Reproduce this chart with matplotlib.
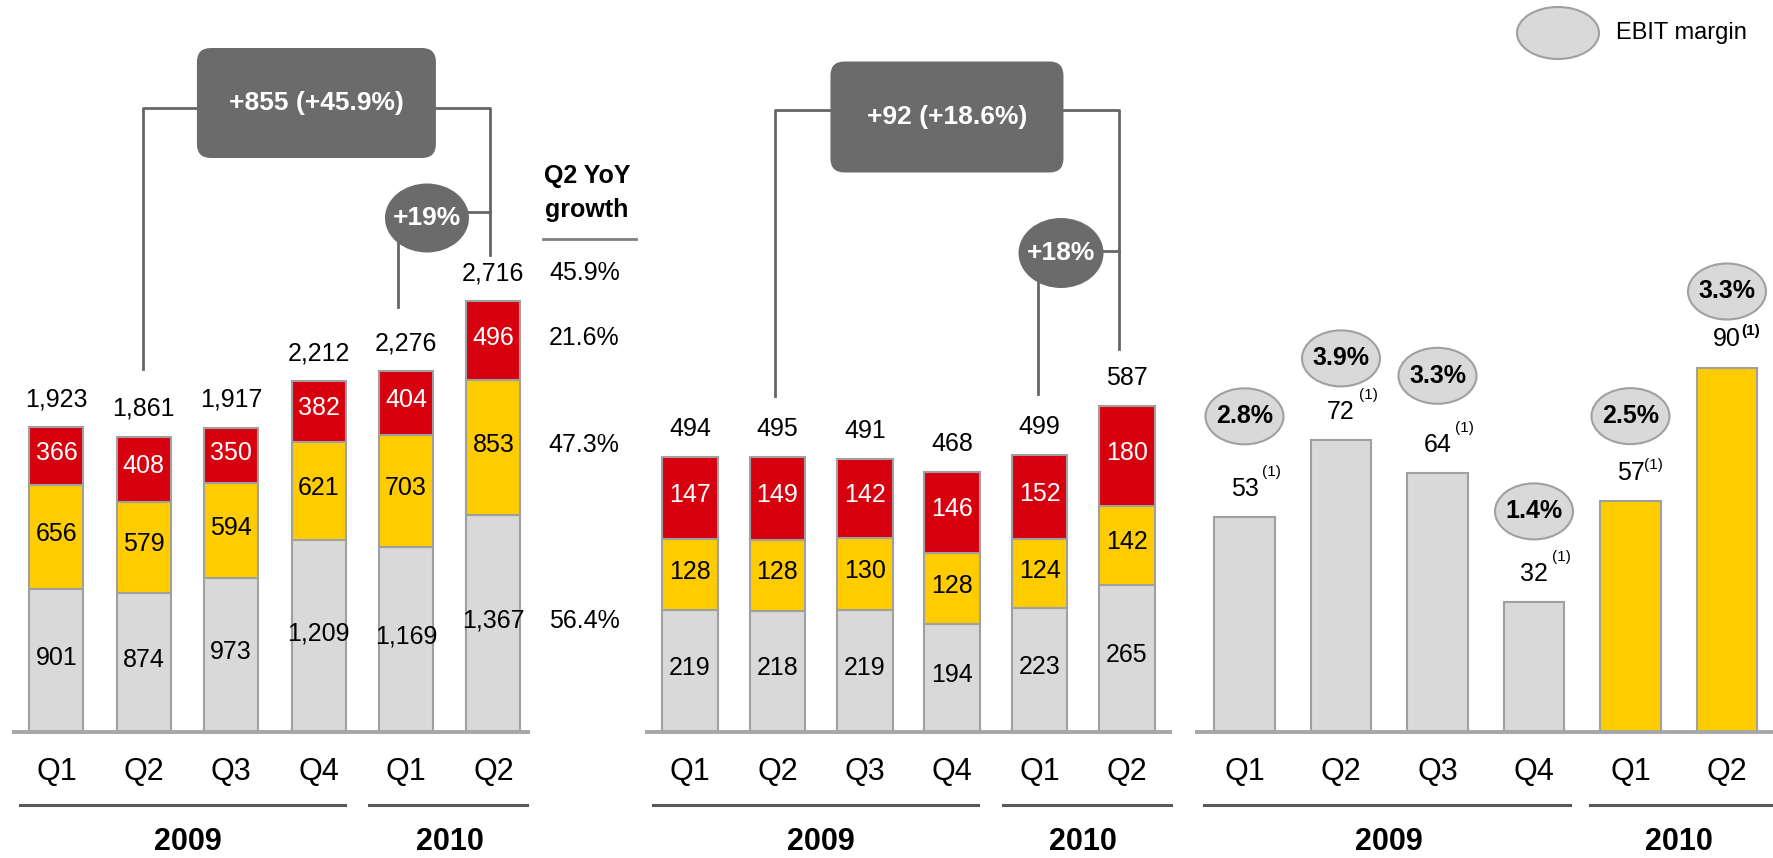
import numpy as np
import matplotlib.pyplot as plt
from matplotlib.patches import Ellipse, FancyBboxPatch

plt.rcParams['font.family'] = ['Liberation Sans', 'DejaVu Sans']

# quarters shown on every panel
quarters = ['Q1', 'Q2', 'Q3', 'Q4', 'Q1', 'Q2']
years = ['2009', '2010']
year_idx = [(0, 3), (4, 5)]

# left panel: three segments per quarter
rev_grey = [901, 874, 973, 1209, 1169, 1367]
rev_yellow = [656, 579, 594, 621, 703, 853]
rev_red = [366, 408, 350, 382, 404, 496]
rev_yoy = ['45.9%', '21.6%', '47.3%', '56.4%']  # total, red, yellow, grey
rev_change = '+855 (+45.9%)'
rev_q_change = '+19%'

# middle panel
mid_grey = [219, 218, 219, 194, 223, 265]
mid_yellow = [128, 128, 130, 128, 124, 142]
mid_red = [147, 149, 142, 146, 152, 180]
mid_change = '+92 (+18.6%)'
mid_q_change = '+18%'

# right panel: EBIT and margin
ebit = [53, 72, 64, 32, 57, 90]
ebit_margin = ['2.8%', '3.9%', '3.3%', '1.4%', '2.5%', '3.3%']

RED = '#D7000F'
YELLOW = '#FFCC00'
GREY = '#D9D9D9'
EDGE = '#A0A0A0'
DARK = '#6B6B6B'
LINE = '#666666'

W, H, BASE = 1774, 858, 732

fig = plt.figure(figsize=(W / 100, H / 100), dpi=100)


def make_panel(left, right, first, step, ppu):
    ax = fig.add_axes([left / W, (H - BASE) / H, (right - left) / W, BASE / H])
    ax.set_xlim((left - first) / step, (right - first) / step)
    ax.set_ylim(0, BASE / ppu)
    ax.axis('off')
    return ax


def ux(ax):
    x0, x1 = ax.get_xlim()
    return (x1 - x0) / ax.bbox.width


def uy(ax):
    y0, y1 = ax.get_ylim()
    return (y1 - y0) / ax.bbox.height


def row(ax, py):
    return (BASE - py) * uy(ax)


def label(ax, text, xy, dy=0, **kw):
    kw.setdefault('fontsize', 18)
    return ax.annotate(text, xy, xytext=(0, dy), textcoords='offset pixels',
                       ha='center', va='center', annotation_clip=False, **kw)


def axis_labels(ax, right_end, tail):
    ax.plot([-0.51, right_end], [0, 0], color='#A6A6A6', lw=2.8,
            solid_capstyle='butt', clip_on=False, zorder=4)
    for i, q in enumerate(quarters):
        label(ax, q, (i, 0), -40, fontsize=22)
    yl = row(ax, BASE + 73)
    for (a, b), yr, t in zip(year_idx, years, tail):
        ax.plot([a - 0.42, b + t], [yl, yl], color='#595959', lw=2.2,
                clip_on=False)
        label(ax, yr, ((a + b) / 2, 0), -110, fontsize=22, fontweight='bold')


def stacked(ax, grey, yellow, red, width):
    x = np.arange(len(grey))
    segs = [(grey, GREY, 'black'), (yellow, YELLOW, 'black'), (red, RED, 'white')]
    bottom = np.zeros(len(grey))
    for vals, col, tcol in segs:
        ax.bar(x, vals, width, bottom=bottom, color=col, edgecolor=EDGE,
               linewidth=1.5, zorder=2)
        for i, v in enumerate(vals):
            label(ax, f'{v:,}', (i, bottom[i] + v / 2), 3, color=tcol, zorder=5)
        bottom = bottom + np.array(vals)
    for i, t in enumerate(bottom):
        label(ax, f'{int(t):,}', (i, t), 28)
    return bottom


def bracket(ax, text, q_text, top_y, box_y, box_w, box_h,
            left_x, left_end, right_x, right_end, ell, ell_line_y, low_x, low_end):
    dx, dy = ux(ax), uy(ax)
    yl = row(ax, top_y)
    # long bracket from Q2 2009 to Q2 2010
    ax.plot([left_x, left_x, right_x, right_x],
            [row(ax, left_end), yl, yl, row(ax, right_end)],
            color=LINE, lw=2, zorder=1, clip_on=False)
    cx = (left_x + right_x) / 2
    bw, bh = box_w * dx, box_h * dy
    box = FancyBboxPatch((cx - bw / 2, row(ax, box_y) - bh / 2), bw, bh,
                         boxstyle=f'round,pad=0,rounding_size={14 * dx}',
                         mutation_aspect=dy / dx, facecolor=DARK,
                         edgecolor='none', zorder=3, clip_on=False)
    ax.add_patch(box)
    ax.text(cx, row(ax, box_y), text, ha='center', va='center', color='white',
            fontsize=19, fontweight='bold', zorder=4)
    # quarter-on-quarter bubble
    ex, ey, rx, ry = ell
    ax.plot([ex, right_x], [row(ax, ell_line_y)] * 2, color=LINE, lw=2, zorder=1)
    ax.plot([low_x, low_x], [row(ax, ey), row(ax, low_end)], color=LINE, lw=2,
            zorder=1)
    ax.add_patch(Ellipse((ex, row(ax, ey)), 2 * rx * dx, 2 * ry * dy,
                         facecolor=DARK, edgecolor='none', zorder=3,
                         clip_on=False))
    ax.text(ex, row(ax, ey), q_text, ha='center', va='center', color='white',
            fontsize=19, fontweight='bold', zorder=4)


# ---- left panel
ax1 = make_panel(0, 560, 56.4, 87.4, 0.1586)
tot1 = stacked(ax1, rev_grey, rev_yellow, rev_red, 0.62)
axis_labels(ax1, 5.42, [0.3, 0.38])
bracket(ax1, rev_change, rev_q_change, top_y=108, box_y=103,
        box_w=239, box_h=110, left_x=0.99, left_end=369, right_x=4.96,
        right_end=255, ell=(4.24, 218, 42, 34.5), ell_line_y=212,
        low_x=3.91, low_end=307)

# YoY growth column next to the last bar
g, yl, rd = rev_grey[-1], rev_yellow[-1], rev_red[-1]
col_x = 6.04
label(ax1, rev_yoy[0], (col_x, tot1[-1]), 28)
for lab, yc in zip(rev_yoy[1:], [g + yl + rd / 2, g + yl / 2, g / 2]):
    label(ax1, lab, (col_x, yc), 3)
ax1.text(6.07, row(ax1, 193), 'Q2 YoY\ngrowth', ha='center', va='center',
         fontsize=18, fontweight='bold', linespacing=1.5)
ax1.plot([5.57, 6.63], [row(ax1, 239)] * 2, color='#808080', lw=2,
         clip_on=False)

# ---- middle panel
ax2 = make_panel(600, 1180, 690, 87.4, 0.556)
tot2 = stacked(ax2, mid_grey, mid_yellow, mid_red, 0.635)
axis_labels(ax2, 5.52, [0.3, 0.5])
bracket(ax2, mid_change, mid_q_change, top_y=110, box_y=117,
        box_w=233, box_h=111, left_x=0.97, left_end=396, right_x=4.91,
        right_end=349, ell=(4.245, 253, 42.5, 35), ell_line_y=251,
        low_x=3.98, low_end=394)

# ---- right panel
ax3 = make_panel(1180, 1774, 1244.5, 96.5, 4.05)
x3 = np.arange(len(ebit))
bar_cols = [GREY, GREY, GREY, GREY, YELLOW, YELLOW]
ax3.bar(x3, ebit, 0.632, color=bar_cols, edgecolor=EDGE, linewidth=1.5,
        zorder=2)
xr = ax3.get_xlim()[1]
axis_labels(ax3, xr, [0.37, xr - 5])

sup_attached = [False, False, False, False, True, True]
margin_lift = [73, 54, 69, 63, 57, 48]
d3x, d3y = ux(ax3), uy(ax3)
for i, v in enumerate(ebit):
    label(ax3, str(v), (i, v), 28)
    sx, sy = (14, 36) if sup_attached[i] else (18, 45)
    ax3.annotate('(1)', (i, v), xytext=(sx, sy), textcoords='offset pixels',
                 ha='left', va='center', fontsize=11, annotation_clip=False,
                 fontweight='bold' if i == len(ebit) - 1 else 'normal')
    ey = v + (28 + margin_lift[i]) * d3y
    ax3.add_patch(Ellipse((i, ey), 78 * d3x, 56 * d3y, facecolor=GREY,
                          edgecolor=EDGE, linewidth=1.5, zorder=3,
                          clip_on=False))
    ax3.text(i, ey, ebit_margin[i], ha='center', va='center', fontsize=18,
             fontweight='bold', zorder=4)

# legend bubble
fig.add_artist(Ellipse((1558 / W, 1 - 33 / H), 82 / W, 52 / H,
                       transform=fig.transFigure, facecolor=GREY,
                       edgecolor=EDGE, linewidth=1.5))
fig.text(1616 / W, 1 - 33 / H, 'EBIT margin', ha='left', va='center',
         fontsize=17)

fig.savefig('out.png', dpi=100)
